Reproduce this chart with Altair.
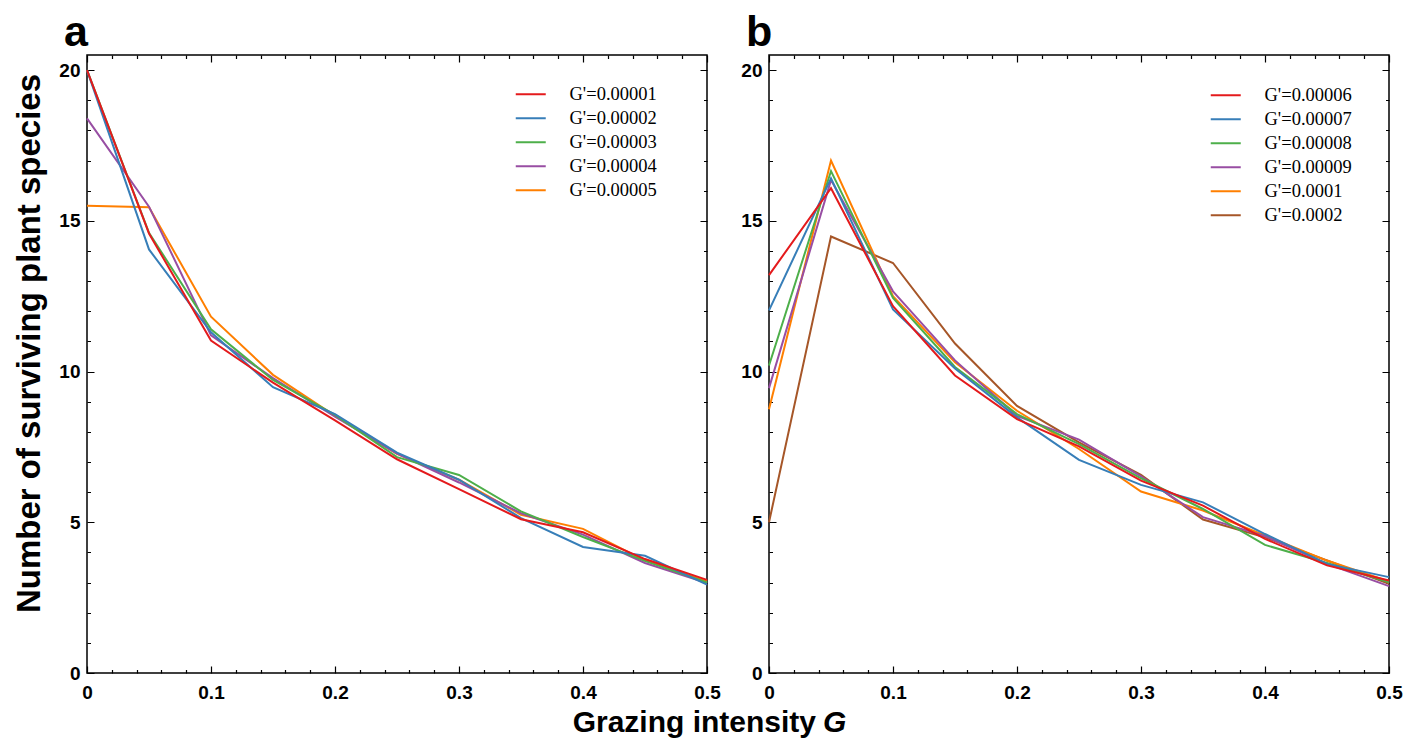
import altair as alt
import pandas as pd

# ---------------- data ----------------
G = [0, 0.05, 0.1, 0.15, 0.2, 0.25, 0.3, 0.35, 0.4, 0.45, 0.5]

a_labels = ["G'=0.00001", "G'=0.00002", "G'=0.00003", "G'=0.00004", "G'=0.00005"]
a_colors = ["#e41a1c", "#377eb8", "#4daf4a", "#984ea3", "#ff7f00"]
a_s1 = [20.0, 14.58, 11.03, 9.63, 8.38, 7.09, 6.10, 5.10, 4.67, 3.78, 3.09]
a_s2 = [20.0, 14.05, 11.30, 9.48, 8.59, 7.31, 6.41, 5.14, 4.18, 3.89, 2.93]
a_s3 = [20.0, 14.60, 11.40, 9.72, 8.56, 7.16, 6.57, 5.36, 4.51, 3.72, 3.00]
a_s4 = [18.4, 15.47, 11.20, 9.78, 8.50, 7.28, 6.32, 5.30, 4.59, 3.65, 2.98]
a_s5 = [15.5, 15.45, 11.82, 9.89, 8.53, 7.27, 6.41, 5.25, 4.78, 3.73, 3.04]

b_labels = ["G'=0.00006", "G'=0.00007", "G'=0.00008", "G'=0.00009", "G'=0.0001", "G'=0.0002"]
b_colors = ["#e41a1c", "#377eb8", "#4daf4a", "#984ea3", "#ff7f00", "#a65628"]
b_s1 = [13.2, 16.08, 12.17, 9.87, 8.42, 7.52, 6.38, 5.55, 4.45, 3.57, 3.07]
b_s2 = [12.03, 16.41, 12.06, 10.10, 8.48, 7.07, 6.24, 5.66, 4.61, 3.62, 3.18]
b_s3 = [10.2, 16.65, 12.44, 10.15, 8.59, 7.59, 6.46, 5.44, 4.25, 3.65, 3.01]
b_s4 = [9.45, 16.35, 12.66, 10.37, 8.53, 7.74, 6.52, 5.17, 4.54, 3.62, 2.88]
b_s5 = [8.75, 17.0, 12.50, 10.31, 8.70, 7.43, 6.02, 5.39, 4.56, 3.73, 3.04]
b_s6 = [5.0, 14.48, 13.60, 10.93, 8.86, 7.65, 6.57, 5.09, 4.50, 3.73, 2.96]

x_ticks = [round(i * 0.02, 2) for i in range(26)]
y_ticks = list(range(21))
x_title_parts = ["Grazing intensity", "G"]

W, H = 620, 618
SANS = "Liberation Sans"
SERIF = "Liberation Serif"


def long_df(labels, series):
    rows = []
    # draw in reverse so the first series ends up on top
    for lab, vals in reversed(list(zip(labels, series))):
        for g, v in zip(G, vals):
            rows.append({"G": g, "S": v, "series": lab})
    return pd.DataFrame(rows)


def panel(df, labels, colors, letter, ytitle, legx, legy, extra=None):
    xmaj = "abs(datum.value*10 - round(datum.value*10)) < 0.001"
    ymaj = "datum.value % 5 == 0"
    xaxis = alt.Axis(
        values=x_ticks, format=".1~f",
        labelExpr=f"{xmaj} ? datum.label : ''",
        labelFont=SANS, labelFontWeight="bold", labelFontSize=19,
        labelColor="black", labelPadding=10, labelFlush=False, labelOverlap=False,
        ticks=False, tickSize=0, domain=False,
        grid=True, gridColor="black", gridOpacity=1, gridWidth=1.2,
        gridDash={"condition": {"test": xmaj, "value": [7, H - 14, 7]},
                  "value": [3.5, H - 7, 3.5]},
        title=None,
    )
    yargs = dict(
        values=y_ticks,
        labelExpr=f"{ymaj} ? datum.label : ''",
        labelFont=SANS, labelFontWeight="bold", labelFontSize=19,
        labelColor="black", labelPadding=7, labelFlush=False, labelOverlap=False,
        ticks=False, tickSize=0, domain=False,
        grid=True, gridColor="black", gridOpacity=1, gridWidth=1.2,
        gridDash={"condition": {"test": ymaj, "value": [7, W - 14, 7]},
                  "value": [3.5, W - 7, 3.5]},
    )
    if ytitle:
        yaxis = alt.Axis(title=ytitle, titleFont=SANS, titleFontWeight="bold",
                         titleFontSize=33, titleColor="black",
                         titleX=-58, titleY=288, titleAngle=270,
                         titleAlign="center", titleBaseline="middle", **yargs)
    else:
        yaxis = alt.Axis(title=None, **yargs)

    lines = alt.Chart(df).mark_line(strokeWidth=2).encode(
        x=alt.X("G:Q", scale=alt.Scale(domain=[0, 0.5], nice=False, zero=False), axis=xaxis),
        y=alt.Y("S:Q", scale=alt.Scale(domain=[0, 20.5], nice=False), axis=yaxis),
        color=alt.Color(
            "series:N",
            scale=alt.Scale(domain=labels, range=colors),
            legend=alt.Legend(
                title=None, orient="none", legendX=legx, legendY=legy,
                labelFont=SERIF, labelFontSize=18.5, labelColor="black",
                symbolType="M-2,0H2", symbolSize=225, symbolStrokeWidth=2,
                labelOffset=29.5, rowPadding=5, padding=0,
            ),
        ),
    )
    layers = [lines]
    if extra is not None:
        layers += extra
    return alt.layer(*layers).properties(
        width=W, height=H,
        title=alt.TitleParams(letter, anchor="start", frame="group", font=SANS,
                              fontWeight="bold", fontSize=43, color="black",
                              dx=-23, offset=0),
    )


tdf = pd.DataFrame({"t": [x_title_parts[0]]})
gdf = pd.DataFrame({"t": [x_title_parts[1]]})
xt1 = alt.Chart(tdf).mark_text(align="right", baseline="alphabetic", font=SANS,
                               fontWeight="bold", fontSize=30, color="black").encode(
    x=alt.value(729), y=alt.value(H + 59), text="t:N")
xt2 = alt.Chart(gdf).mark_text(align="left", baseline="alphabetic", font=SANS,
                               fontWeight="bold", fontStyle="italic", fontSize=30,
                               color="black").encode(
    x=alt.value(736), y=alt.value(H + 59), text="t:N")

pa = panel(long_df(a_labels, [a_s1, a_s2, a_s3, a_s4, a_s5]), a_labels, a_colors,
           "a", "Number of surviving plant species", 434.5, 30, extra=[xt1, xt2])
pb = panel(long_df(b_labels, [b_s1, b_s2, b_s3, b_s4, b_s5, b_s6]), b_labels, b_colors,
           "b", None, 447.5, 31)

chart = alt.hconcat(pa, pb, spacing=62, bounds="flush").resolve_scale(
    color="independent"
).properties(
    padding={"left": 4, "top": 3, "right": 5, "bottom": 5},
    background="white",
).configure_view(stroke="black", strokeWidth=1.5)

chart.save("out.html", embed_options={"renderer": "svg", "actions": False})
